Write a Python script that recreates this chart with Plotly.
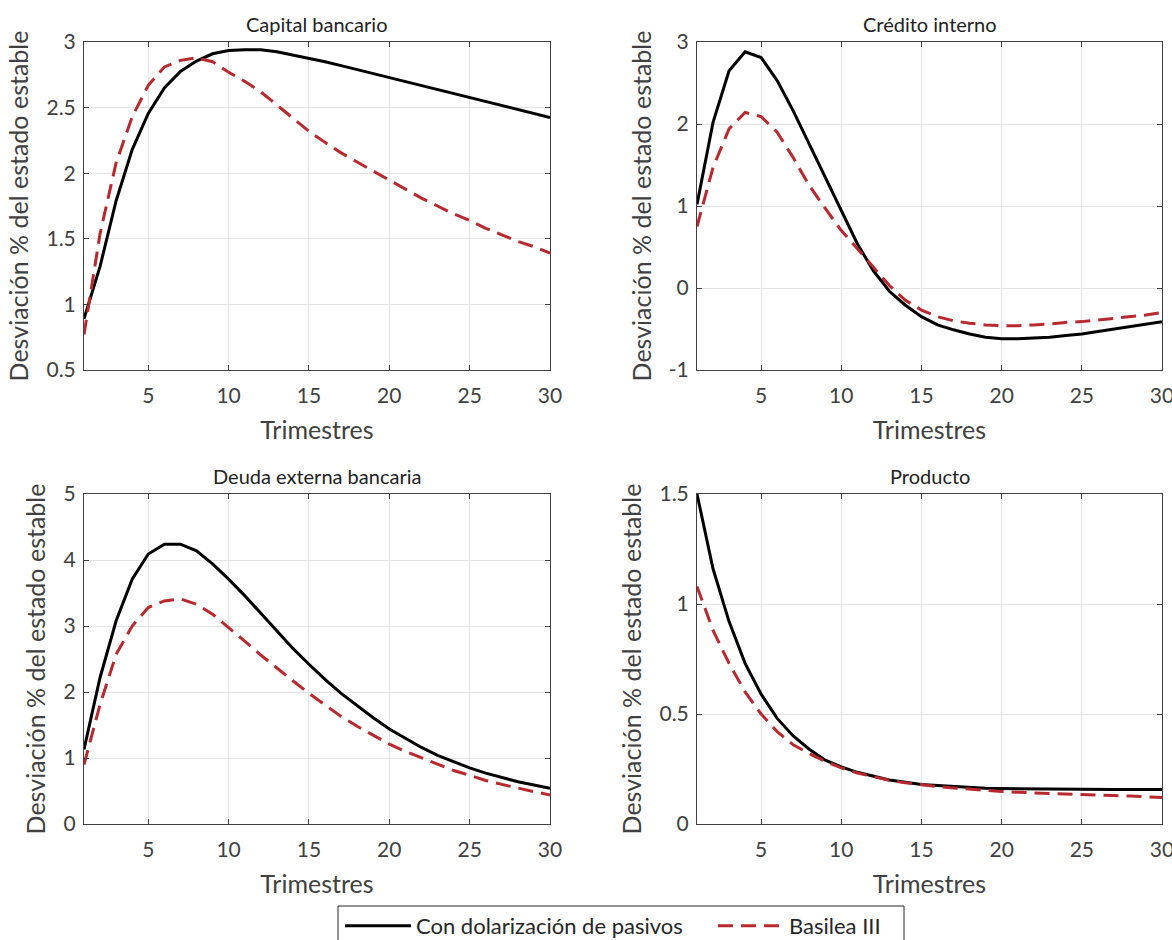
import plotly.graph_objects as go

# ---------------- data ----------------
trimestres = list(range(1, 31))

capital_dolar = [0.89, 1.29, 1.79, 2.18, 2.455, 2.65, 2.775, 2.855, 2.91, 2.935,
                 2.94, 2.94, 2.925, 2.90, 2.876, 2.85, 2.82, 2.79, 2.76, 2.73,
                 2.70, 2.67, 2.64, 2.61, 2.58, 2.55, 2.52, 2.49, 2.46, 2.425]
capital_basilea = [0.77, 1.54, 2.08, 2.43, 2.67, 2.81, 2.86, 2.88, 2.85, 2.77,
                   2.70, 2.62, 2.52, 2.42, 2.32, 2.235, 2.155, 2.085, 2.015, 1.95,
                   1.88, 1.81, 1.75, 1.69, 1.64, 1.58, 1.53, 1.48, 1.44, 1.39]

credito_dolar = [1.02, 2.02, 2.65, 2.88, 2.81, 2.53, 2.16, 1.76, 1.35, 0.95,
                 0.54, 0.21, -0.04, -0.21, -0.35, -0.45, -0.51, -0.56, -0.60, -0.62,
                 -0.62, -0.61, -0.60, -0.58, -0.56, -0.53, -0.50, -0.47, -0.44, -0.41]
credito_basilea = [0.75, 1.47, 1.94, 2.14, 2.09, 1.90, 1.59, 1.25, 0.97, 0.70,
                   0.48, 0.26, 0.03, -0.15, -0.27, -0.35, -0.40, -0.43, -0.45, -0.46,
                   -0.46, -0.45, -0.44, -0.42, -0.41, -0.39, -0.37, -0.35, -0.33, -0.30]

deuda_dolar = [1.13, 2.22, 3.08, 3.71, 4.09, 4.24, 4.24, 4.14, 3.94, 3.71,
               3.46, 3.19, 2.93, 2.66, 2.42, 2.19, 1.98, 1.79, 1.61, 1.44,
               1.30, 1.16, 1.04, 0.94, 0.85, 0.77, 0.70, 0.64, 0.59, 0.54]
deuda_basilea = [0.90, 1.81, 2.57, 3.00, 3.28, 3.38, 3.41, 3.33, 3.18, 2.98,
                 2.77, 2.56, 2.36, 2.17, 1.98, 1.80, 1.63, 1.48, 1.35, 1.21,
                 1.10, 1.00, 0.90, 0.81, 0.74, 0.66, 0.60, 0.54, 0.49, 0.44]

producto_dolar = [1.50, 1.16, 0.92, 0.73, 0.59, 0.48, 0.40, 0.34, 0.29, 0.26,
                  0.235, 0.217, 0.20, 0.19, 0.18, 0.175, 0.17, 0.166, 0.163, 0.161,
                  0.160, 0.159, 0.158, 0.158, 0.157, 0.157, 0.157, 0.157, 0.157, 0.157]
producto_basilea = [1.08, 0.88, 0.73, 0.60, 0.50, 0.42, 0.36, 0.32, 0.285, 0.255,
                    0.232, 0.214, 0.199, 0.187, 0.178, 0.170, 0.164, 0.158, 0.153, 0.148,
                    0.144, 0.141, 0.138, 0.136, 0.134, 0.131, 0.129, 0.127, 0.125, 0.120]

titulos = ["Capital bancario", "Crédito interno", "Deuda externa bancaria", "Producto"]
serie_dolar = "Con dolarización de pasivos"
serie_basilea = "Basilea III"
x_label = "Trimestres"
y_label = "Desviación % del estado estable"

x_ticks = [5, 10, 15, 20, 25, 30]
y_ticks = [
    [0.5, 1, 1.5, 2, 2.5, 3],
    [-1, 0, 1, 2, 3],
    [0, 1, 2, 3, 4, 5],
    [0, 0.5, 1, 1.5],
]
y_ticktext = [
    ["0.5", "1", "1.5", "2", "2.5", "3"],
    ["-1", "0", "1", "2", "3"],
    ["0", "1", "2", "3", "4", "5"],
    ["0", "0.5", "1", "1.5"],
]
y_ranges = [[0.5, 3], [-1, 3], [0, 5], [0, 1.5]]

dolar_series = [capital_dolar, credito_dolar, deuda_dolar, producto_dolar]
basilea_series = [capital_basilea, credito_basilea, deuda_basilea, producto_basilea]

# ---------------- layout geometry ----------------
W, H = 1172, 940
x_doms = [[84 / W, 550 / W], [697 / W, 1162 / W]]
y_doms = [[1 - 370 / H, 1 - 42 / H], [1 - 824 / H, 1 - 494 / H]]

FONT = "Lato"
TXT = "#404040"
BLACK = "#000000"
RED = "#B8292F"

fig = go.Figure()
annotations = []

for i in range(4):
    r, c = divmod(i, 2)
    n = i + 1
    xa = "x" if n == 1 else f"x{n}"
    ya = "y" if n == 1 else f"y{n}"
    fig.add_trace(go.Scatter(
        x=trimestres, y=dolar_series[i], mode="lines",
        line=dict(color=BLACK, width=3),
        name=serie_dolar, legend="legend", showlegend=(i == 0),
        xaxis=xa, yaxis=ya))
    fig.add_trace(go.Scatter(
        x=trimestres, y=basilea_series[i], mode="lines",
        line=dict(color=RED, width=3, dash="15px,8px"),
        name=serie_basilea, legend="legend2", showlegend=(i == 0),
        xaxis=xa, yaxis=ya))

    axis_common = dict(
        showline=True, linecolor=TXT, linewidth=1, mirror="ticks",
        ticks="inside", ticklen=5, tickcolor=TXT, tickwidth=1,
        showgrid=True, gridcolor="#E3E3E3", gridwidth=1,
        zeroline=False, tickfont=dict(family=FONT, size=21, color=TXT),
        automargin=False, ticklabeloverflow="allow",
    )
    xkey = "xaxis" if n == 1 else f"xaxis{n}"
    ykey = "yaxis" if n == 1 else f"yaxis{n}"
    fig.layout[xkey] = dict(
        axis_common, domain=x_doms[c], anchor=ya, range=[1, 30],
        tickvals=x_ticks, ticklabelstandoff=7,
        title=dict(text=x_label, font=dict(family=FONT, size=25, color=TXT), standoff=15),
    )
    fig.layout[ykey] = dict(
        axis_common, domain=y_doms[r], anchor=xa, range=y_ranges[i],
        tickvals=y_ticks[i], ticktext=y_ticktext[i], ticklabelstandoff=3,
        title=dict(text=y_label, font=dict(family=FONT, size=25, color=TXT), standoff=10),
    )
    annotations.append(dict(
        text=titulos[i], xref="paper", yref="paper",
        x=(x_doms[c][0] + x_doms[c][1]) / 2, y=y_doms[r][1],
        xanchor="center", yanchor="bottom", yshift=4, showarrow=False,
        font=dict(family=FONT, size=20, color="#222222"),
    ))

legend_common = dict(
    orientation="h", xanchor="left", y=1 - 905 / H, yanchor="top",
    borderwidth=0, bgcolor="rgba(0,0,0,0)",
    font=dict(family=FONT, size=22, color="#262626"),
    itemwidth=66,
)

fig.update_layout(
    width=W, height=H,
    margin=dict(l=0, r=0, t=0, b=0, autoexpand=False),
    paper_bgcolor="white", plot_bgcolor="white",
    annotations=annotations,
    showlegend=True,
    legend=dict(legend_common, x=340 / W),
    legend2=dict(legend_common, x=713 / W),
    shapes=[dict(
        type="rect", xref="paper", yref="paper",
        x0=338 / W, x1=904 / W, y0=1 - 906 / H, y1=-0.05,
        line=dict(color="#262626", width=1), fillcolor="rgba(0,0,0,0)", layer="below",
    )],
)

fig.write_html("out.html")
